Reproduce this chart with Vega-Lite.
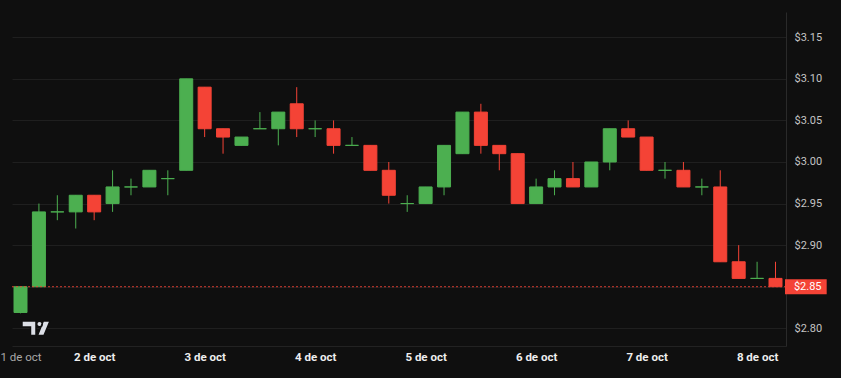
{
  "$schema": "https://vega.github.io/schema/vega-lite/v6.json",
  "width": 774,
  "height": 334,
  "autosize": {"type": "none"},
  "padding": {"left": 12, "top": 12, "right": 55, "bottom": 32},
  "background": "#0f0f0f",
  "config": {"view": {"stroke": null}, "font": "Roboto", "scale": {"continuousPadding": 0}},
  "datasets": {
    "candles": [
      {"i": 0, "o": 2.819, "h": 2.85, "l": 2.818, "c": 2.85},
      {"i": 1, "o": 2.85, "h": 2.95, "l": 2.85, "c": 2.94},
      {"i": 2, "o": 2.94, "h": 2.96, "l": 2.93, "c": 2.94},
      {"i": 3, "o": 2.94, "h": 2.96, "l": 2.92, "c": 2.96},
      {"i": 4, "o": 2.96, "h": 2.96, "l": 2.93, "c": 2.94},
      {"i": 5, "o": 2.95, "h": 2.99, "l": 2.94, "c": 2.97},
      {"i": 6, "o": 2.97, "h": 2.98, "l": 2.96, "c": 2.97},
      {"i": 7, "o": 2.97, "h": 2.99, "l": 2.97, "c": 2.99},
      {"i": 8, "o": 2.98, "h": 2.99, "l": 2.96, "c": 2.98},
      {"i": 9, "o": 2.99, "h": 3.10, "l": 2.99, "c": 3.10},
      {"i": 10, "o": 3.09, "h": 3.09, "l": 3.03, "c": 3.04},
      {"i": 11, "o": 3.04, "h": 3.04, "l": 3.01, "c": 3.03},
      {"i": 12, "o": 3.02, "h": 3.03, "l": 3.02, "c": 3.03},
      {"i": 13, "o": 3.04, "h": 3.06, "l": 3.04, "c": 3.04},
      {"i": 14, "o": 3.04, "h": 3.06, "l": 3.02, "c": 3.06},
      {"i": 15, "o": 3.07, "h": 3.09, "l": 3.03, "c": 3.04},
      {"i": 16, "o": 3.04, "h": 3.05, "l": 3.03, "c": 3.04},
      {"i": 17, "o": 3.04, "h": 3.05, "l": 3.01, "c": 3.02},
      {"i": 18, "o": 3.02, "h": 3.03, "l": 3.02, "c": 3.02},
      {"i": 19, "o": 3.02, "h": 3.02, "l": 2.99, "c": 2.99},
      {"i": 20, "o": 2.99, "h": 3.00, "l": 2.95, "c": 2.96},
      {"i": 21, "o": 2.95, "h": 2.96, "l": 2.94, "c": 2.95},
      {"i": 22, "o": 2.95, "h": 2.97, "l": 2.95, "c": 2.97},
      {"i": 23, "o": 2.97, "h": 3.02, "l": 2.96, "c": 3.02},
      {"i": 24, "o": 3.01, "h": 3.06, "l": 3.01, "c": 3.06},
      {"i": 25, "o": 3.06, "h": 3.07, "l": 3.01, "c": 3.02},
      {"i": 26, "o": 3.02, "h": 3.02, "l": 2.99, "c": 3.01},
      {"i": 27, "o": 3.01, "h": 3.01, "l": 2.95, "c": 2.95},
      {"i": 28, "o": 2.95, "h": 2.98, "l": 2.95, "c": 2.97},
      {"i": 29, "o": 2.97, "h": 2.99, "l": 2.96, "c": 2.98},
      {"i": 30, "o": 2.98, "h": 3.00, "l": 2.97, "c": 2.97},
      {"i": 31, "o": 2.97, "h": 3.00, "l": 2.97, "c": 3.00},
      {"i": 32, "o": 3.00, "h": 3.04, "l": 2.99, "c": 3.04},
      {"i": 33, "o": 3.04, "h": 3.05, "l": 3.03, "c": 3.03},
      {"i": 34, "o": 3.03, "h": 3.03, "l": 2.99, "c": 2.99},
      {"i": 35, "o": 2.99, "h": 3.00, "l": 2.98, "c": 2.99},
      {"i": 36, "o": 2.99, "h": 3.00, "l": 2.97, "c": 2.97},
      {"i": 37, "o": 2.97, "h": 2.98, "l": 2.96, "c": 2.97},
      {"i": 38, "o": 2.97, "h": 2.99, "l": 2.88, "c": 2.88},
      {"i": 39, "o": 2.88, "h": 2.90, "l": 2.86, "c": 2.86},
      {"i": 40, "o": 2.86, "h": 2.88, "l": 2.86, "c": 2.86},
      {"i": 41, "o": 2.86, "h": 2.88, "l": 2.85, "c": 2.85}
    ],
    "last": [{"price": 2.85}]
  },
  "layer": [
    {
      "data": {"name": "candles"},
      "mark": {"type": "rule", "strokeWidth": 1},
      "encoding": {
        "x": {
          "field": "i", "type": "quantitative",
          "scale": {"domain": [-0.4616, 41.57], "nice": false, "zero": false, "padding": 0},
          "axis": {
            "title": null,
            "values": [0, 4, 10, 16, 22, 28, 34, 40],
            "labelExpr": "datum.value == 0 ? '1 de oct' : (datum.value < 5 ? '2 de oct' : (floor((datum.value - 4) / 6) + 2) + ' de oct')",
            "ticks": false,
            "grid": false,
            "domainColor": "#222222",
            "labelColor": {"condition": {"test": "datum.value == 0", "value": "#a8a8a8"}, "value": "#eeeeee"},
            "labelFontWeight": {"condition": {"test": "datum.value == 0", "value": "normal"}, "value": "bold"},
            "labelFont": "Roboto",
            "labelFontSize": 11.5,
            "labelPadding": 5,
            "labelFlush": false,
            "labelOverlap": false
          }
        },
        "y": {
          "field": "l", "type": "quantitative",
          "scale": {"domain": [2.7787, 3.1804], "nice": false, "zero": false, "padding": 0},
          "axis": {
            "title": null,
            "orient": "right",
            "values": [2.8, 2.85, 2.9, 2.95, 3.0, 3.05, 3.1, 3.15],
            "labelExpr": "abs(datum.value - 2.85) < 0.001 ? '' : '$' + format(datum.value, '.2f')",
            "ticks": false,
            "grid": true,
            "gridColor": "#1f1f1f",
            "domainColor": "#2a2a2a",
            "labelColor": "#c4c4c4",
            "labelFont": "Roboto",
            "labelFontSize": 11,
            "labelPadding": 8,
            "labelFlush": false,
            "labelOverlap": false
          }
        },
        "y2": {"field": "h"},
        "color": {"condition": {"test": "datum.c >= datum.o", "value": "#4caf50"}, "value": "#f44336"}
      }
    },
    {
      "data": {"name": "candles"},
      "mark": {"type": "bar", "width": 13, "strokeWidth": 1},
      "encoding": {
        "x": {"field": "i", "type": "quantitative"},
        "y": {"field": "o", "type": "quantitative"},
        "y2": {"field": "c"},
        "fill": {"condition": {"test": "datum.c >= datum.o", "value": "#4caf50"}, "value": "#f44336"},
        "stroke": {"condition": {"test": "datum.c >= datum.o", "value": "#4caf50"}, "value": "#f44336"}
      }
    },
    {
      "data": {"name": "last"},
      "mark": {"type": "rule", "stroke": "#f44336", "strokeWidth": 1, "strokeDash": [2, 2], "strokeOpacity": 0.85},
      "encoding": {
        "y": {"field": "price", "type": "quantitative"}
      }
    },
    {
      "data": {"name": "last"},
      "mark": {"type": "bar", "height": 15, "fill": "#f44336", "clip": false},
      "encoding": {
        "x": {"datum": 41.516, "type": "quantitative"},
        "x2": {"datum": 43.78},
        "y": {"field": "price", "type": "quantitative"}
      }
    },
    {
      "data": {"name": "last"},
      "mark": {"type": "text", "align": "left", "baseline": "middle", "fill": "#ffffff", "font": "Roboto", "fontSize": 11, "clip": false},
      "encoding": {
        "x": {"datum": 42.0, "type": "quantitative"},
        "y": {"field": "price", "type": "quantitative"},
        "text": {"field": "price", "type": "quantitative", "format": "$.2f"}
      }
    },
    {
      "data": {"name": "last"},
      "mark": {
        "type": "point",
        "shape": "M-1,-0.518L0,-0.518L0,0.518L-0.393,0.518L-0.393,-0.089L-1,-0.089Z M0.05,-0.304A0.2,0.2 0 1,0 0.45,-0.304A0.2,0.2 0 1,0 0.05,-0.304Z M0.521,-0.518L1,-0.518L0.571,0.518L0.107,0.518Z",
        "filled": true,
        "fill": "#dcdfe6",
        "stroke": "#0f0f0f",
        "strokeWidth": 1.5,
        "size": 784,
        "opacity": 1
      },
      "encoding": {
        "x": {"datum": 0.841, "type": "quantitative"},
        "y": {"datum": 2.80, "type": "quantitative"}
      }
    }
  ]
}
